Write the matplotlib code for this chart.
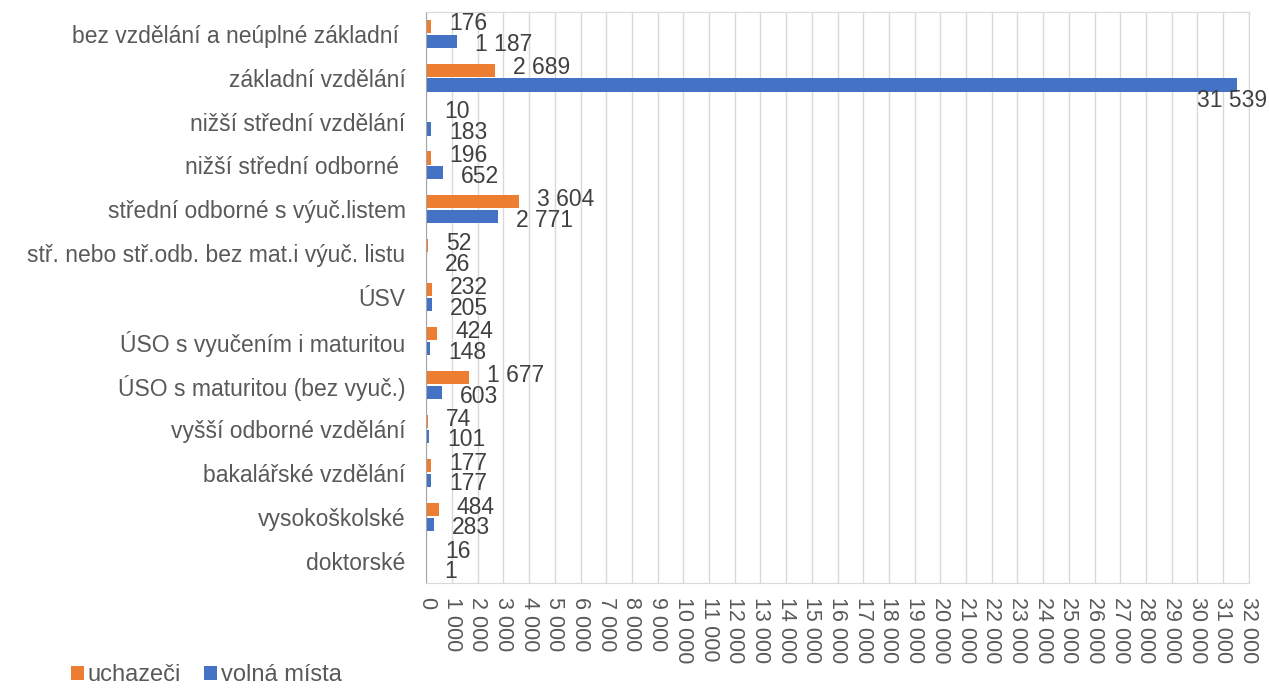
import numpy as np
import matplotlib.pyplot as plt

plt.rcParams['font.family'] = ['Liberation Sans', 'DejaVu Sans']

categories = [
    "bez vzdělání a neúplné základní ",
    "základní vzdělání",
    "nižší střední vzdělání",
    "nižší střední odborné ",
    "střední odborné s výuč.listem",
    "stř. nebo stř.odb. bez mat.i výuč. listu",
    "ÚSV",
    "ÚSO s vyučením i maturitou",
    "ÚSO s maturitou (bez vyuč.)",
    "vyšší odborné vzdělání",
    "bakalářské vzdělání",
    "vysokoškolské",
    "doktorské",
]
uchazeci = [176, 2689, 10, 196, 3604, 52, 232, 424, 1677, 74, 177, 484, 16]
volna_mista = [1187, 31539, 183, 652, 2771, 26, 205, 148, 603, 101, 177, 283, 1]

orange = "#ED7D31"
blue = "#4472C4"
text_col = "#404040"
axis_col = "#595959"


def fmt(v):
    return f"{v:,}".replace(",", " ")


fig = plt.figure(figsize=(12.69, 6.88), dpi=100)
ax = fig.add_axes([0.336, 0.153, 0.648, 0.830])

y = np.arange(len(categories))
h = 0.30
ax.barh(y - h / 2 - 0.02, uchazeci, height=h, color=orange, label="uchazeči")
ax.barh(y + h / 2 + 0.02, volna_mista, height=h, color=blue, label="volná místa")

for i, (u, v) in enumerate(zip(uchazeci, volna_mista)):
    ax.text(u + 700, i - 0.22, fmt(u), va="center", ha="left",
            fontsize=16.5, color=text_col)
    if v > 30000:
        ax.text(v - 200, i + 0.52, fmt(v), va="center", ha="center",
                fontsize=16.5, color=text_col)
    else:
        ax.text(v + 700, i + 0.25, fmt(v), va="center", ha="left",
                fontsize=16.5, color=text_col)

ax.set_ylim(len(categories) - 0.5, -0.5)
ax.set_yticks(y)
ax.set_yticklabels(categories, fontsize=16.5, color=axis_col)
ax.set_xlim(0, 32000)
ax.set_xticks(np.arange(0, 32001, 1000))
ax.set_xticklabels([fmt(t) for t in range(0, 32001, 1000)],
                   rotation=-90, fontsize=15.5, color=axis_col)
ax.tick_params(length=0, pad=10)
ax.tick_params(axis="y", pad=15)
ax.grid(axis="x", color="#D9D9D9", linewidth=1)
ax.set_axisbelow(True)
for s in ["top", "right", "bottom"]:
    ax.spines[s].set_color("#D9D9D9")
ax.spines["left"].set_color("#A6A6A6")

fig.legend(loc="lower left", bbox_to_anchor=(0.039, -0.028), ncol=2,
           frameon=False, fontsize=17, handlelength=0.55, handleheight=0.55,
           handletextpad=0.15, columnspacing=1.0, labelcolor=axis_col)

plt.savefig("out.png")
